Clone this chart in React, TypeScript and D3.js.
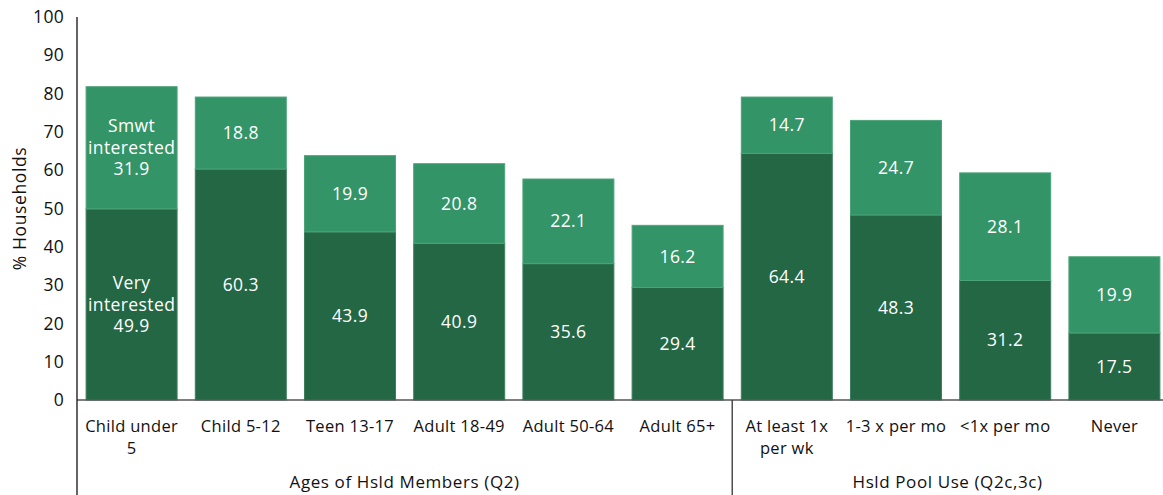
import React from "react";
import * as d3 from "d3";

const categories: string[][] = [
  ["Child under", "5"],
  ["Child 5-12"],
  ["Teen 13-17"],
  ["Adult 18-49"],
  ["Adult 50-64"],
  ["Adult 65+"],
  ["At least 1x", "per wk"],
  ["1-3 x per mo"],
  ["<1x per mo"],
  ["Never"],
];
const veryInterested = [49.9, 60.3, 43.9, 40.9, 35.6, 29.4, 64.4, 48.3, 31.2, 17.5];
const smwtInterested = [31.9, 18.8, 19.9, 20.8, 22.1, 16.2, 14.7, 24.7, 28.1, 19.9];
const yTicks = [0, 10, 20, 30, 40, 50, 60, 70, 80, 90, 100];
const groups = [
  { label: "Ages of Hsld Members (Q2)", from: 0, to: 6 },
  { label: "Hsld Pool Use (Q2c,3c)", from: 6, to: 10 },
];

const W = 1163;
const H = 495;
const FONT = "'Open Sans', 'Noto Sans', sans-serif";
const DARK = "#236744";
const LIGHT = "#339467";

export default function App() {
  const x = d3
    .scaleBand<number>()
    .domain(categories.map((_, i) => i))
    .range([77, 1169])
    .paddingInner(0.1667)
    .paddingOuter(0.0833);
  const y = d3.scaleLinear().domain([0, 100]).range([400, 17]);
  const step = x.step();
  const x0 = 77;

  const segLabel = (cx: number, cy: number, lines: string[]) => {
    const lh = 21.5;
    const start = cy - ((lines.length - 1) * lh) / 2;
    return (
      <text
        x={cx}
        textAnchor="middle"
        fill="#fff"
        fontSize={17.5}
        letterSpacing={0.4}
        fontFamily={FONT}
      >
        {lines.map((l, k) => (
          <tspan key={k} x={cx} y={start + k * lh} dy="0.35em">
            {l}
          </tspan>
        ))}
      </text>
    );
  };

  return (
    <svg
      width={W}
      height={H}
      style={{ position: "absolute", left: 0, top: 0, background: "#fff" }}
    >
      {categories.map((_, i) => {
        const bx = x(i)!;
        const bw = x.bandwidth();
        const v = veryInterested[i];
        const s = smwtInterested[i];
        const cx = bx + bw / 2;
        return (
          <g key={i}>
            <rect
              x={bx}
              y={y(v)}
              width={bw}
              height={y(0) - y(v)}
              fill={DARK}
              stroke="#3d8060"
              strokeWidth={1}
            />
            <rect
              x={bx}
              y={y(v + s)}
              width={bw}
              height={y(v) - y(v + s)}
              fill={LIGHT}
              stroke="#4ea479"
              strokeWidth={1}
            />
            {segLabel(
              cx,
              (y(v) + y(v + s)) / 2,
              i === 0 ? ["Smwt", "interested", s.toFixed(1)] : [s.toFixed(1)]
            )}
            {segLabel(
              cx,
              (y(0) + y(v)) / 2,
              i === 0 ? ["Very", "interested", v.toFixed(1)] : [v.toFixed(1)]
            )}
          </g>
        );
      })}

      <line x1={x0} x2={W} y1={y(0)} y2={y(0)} stroke="#555" strokeWidth={1.5} />
      <line x1={x0} x2={x0} y1={y(100)} y2={H} stroke="#111" strokeWidth={1.3} />
      {groups.slice(1).map((g, k) => (
        <line
          key={k}
          x1={x0 + g.from * step}
          x2={x0 + g.from * step}
          y1={y(0)}
          y2={H}
          stroke="#333"
          strokeWidth={1.3}
        />
      ))}

      {yTicks.map((t) => (
        <text
          key={t}
          x={64}
          y={y(t)}
          dy="0.35em"
          textAnchor="end"
          fontSize={17.5}
          letterSpacing={0.3}
          fontFamily={FONT}
          fill="#111"
        >
          {t}
        </text>
      ))}

      {categories.map((lines, i) => {
        const cx = x(i)! + x.bandwidth() / 2;
        return (
          <text
            key={i}
            textAnchor="middle"
            fontSize={16.5}
            letterSpacing={0.3}
            fontFamily={FONT}
            fill="#111"
          >
            {lines.map((l, k) => (
              <tspan key={k} x={cx} y={426 + k * 22} dy="0.35em">
                {l}
              </tspan>
            ))}
          </text>
        );
      })}

      {groups.map((g, k) => {
        const a = x0 + g.from * step;
        const b = Math.min(W, x0 + g.to * step);
        return (
          <text
            key={k}
            x={(a + b) / 2}
            y={482}
            dy="0.35em"
            textAnchor="middle"
            fontSize={17}
            letterSpacing={0.6}
            fontFamily={FONT}
            fill="#111"
          >
            {g.label}
          </text>
        );
      })}

      <text
        transform={`translate(20, ${(y(0) + y(100)) / 2}) rotate(-90)`}
        dy="0.35em"
        textAnchor="middle"
        fontSize={17.5}
        letterSpacing={0.6}
        fontFamily={FONT}
        fill="#111"
      >
        % Households
      </text>
    </svg>
  );
}
